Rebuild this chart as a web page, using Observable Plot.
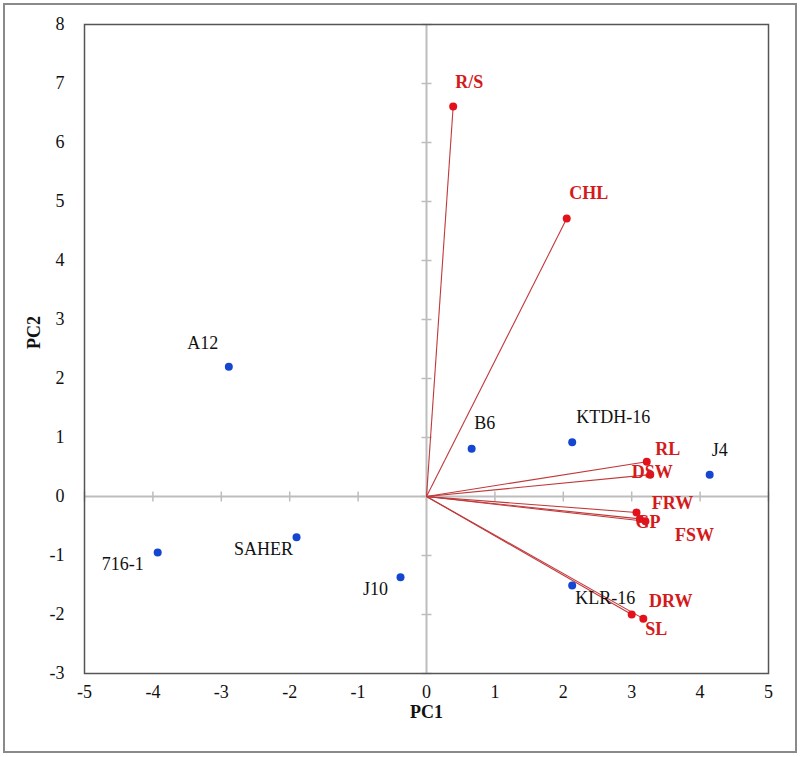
<!DOCTYPE html>
<html>
<head>
<meta charset="utf-8">
<script src="https://cdn.jsdelivr.net/npm/d3@7"></script>
<script src="https://cdn.jsdelivr.net/npm/@observablehq/plot@0.6"></script>
<style>
  html, body { margin: 0; padding: 0; background: #fff; }
  #wrap { position: relative; width: 800px; height: 757px; }
  #border { position: absolute; left: 3px; top: 3px; width: 790px; height: 746px; border: 2px solid #8a8a8a; pointer-events: none; }
  #chart { position: absolute; left: 0; top: 0; }
  #chart svg, #chart svg text { font-family: "Liberation Serif", "Times New Roman", serif !important; }
</style>
</head>
<body>
<div id="wrap"><div id="chart"></div><div id="border"></div></div>
<script>
// Genotype scores (blue points)
const genotypeNames = ["A12", "B6", "KTDH-16", "J4", "716-1", "SAHER", "J10", "KLR-16"];
const genotypePC1 = [-2.89, 0.66, 2.13, 4.14, -3.93, -1.90, -0.38, 2.13];
const genotypePC2 = [2.20, 0.81, 0.92, 0.37, -0.95, -0.69, -1.37, -1.51];

// Trait loadings (red vectors)
const traitNames = ["R/S", "CHL", "RL", "DSW", "FRW", "GP", "FSW", "DRW", "SL"];
const traitPC1 = [0.39, 2.05, 3.22, 3.27, 3.07, 3.12, 3.20, 3.00, 3.17];
const traitPC2 = [6.61, 4.71, 0.59, 0.37, -0.27, -0.38, -0.42, -2.00, -2.07];

// Axis ticks
const xTicks = [-5, -4, -3, -2, -1, 0, 1, 2, 3, 4, 5];
const yTicks = [-3, -2, -1, 0, 1, 2, 3, 4, 5, 6, 7, 8];

const genotypes = genotypeNames.map((name, i) => ({name, x: genotypePC1[i], y: genotypePC2[i]}));
const traits = traitNames.map((name, i) => ({name, x: traitPC1[i], y: traitPC2[i]}));

// label placement (pixel offsets from point)
const labelOffset = {
  "R/S": [16, -24], "CHL": [22, -25], "RL": [21, -12], "DSW": [2, -2], "FRW": [36, -9],
  "GP": [8, 3], "FSW": [49, 14], "DRW": [39, -13], "SL": [13, 11],
  "A12": [-26, -23], "B6": [13, -25], "KTDH-16": [41, -25], "J4": [10, -24],
  "716-1": [-35, 12], "SAHER": [-33, 12], "J10": [-25, 12], "KLR-16": [33, 13]
};

const FONT = "Liberation Serif";
const RED = "#d41a1a";

const hTick = {draw(ctx) { ctx.moveTo(-5, 0); ctx.lineTo(5, 0); }};
const vTick = {draw(ctx) { ctx.moveTo(0, -5); ctx.lineTo(0, 5); }};

const labelMarks = (rows, fill, weight) => rows.map(d => Plot.text([d], {
  x: "x", y: "y", text: "name",
  dx: labelOffset[d.name][0], dy: labelOffset[d.name][1],
  fill, fontWeight: weight, fontSize: 18, fontFamily: FONT,
  textAnchor: "middle", lineAnchor: "middle"
}));

const fmt = d => String(d);

const chart = Plot.plot({
  width: 800,
  height: 757,
  marginLeft: 84,
  marginRight: 32,
  marginTop: 24,
  marginBottom: 84,
  style: {fontFamily: FONT, fontSize: "18px", color: "#111", background: "transparent"},
  x: {domain: [-5, 5]},
  y: {domain: [-3, 8]},
  marks: [
    Plot.ruleY([0], {stroke: "#bdbdbd", strokeWidth: 2}),
    Plot.ruleX([0], {stroke: "#bdbdbd", strokeWidth: 2}),
    Plot.dot(yTicks, {x: 0, y: d => d, symbol: hTick, stroke: "#bdbdbd", strokeWidth: 1.5, fill: "none"}),
    Plot.dot(xTicks, {x: d => d, y: 0, symbol: vTick, stroke: "#bdbdbd", strokeWidth: 1.5, fill: "none"}),
    Plot.frame({stroke: "#555", strokeWidth: 1.5}),
    Plot.axisX(xTicks, {tickSize: 0, tickPadding: 12, fontSize: 18, fill: "#111", label: null, tickFormat: fmt, fontFamily: FONT}),
    Plot.axisY(yTicks, {tickSize: 0, tickPadding: 20, fontSize: 18, fill: "#111", label: null, tickFormat: fmt, fontFamily: FONT}),
    Plot.text(["PC1"], {frameAnchor: "bottom", dy: 44, fontWeight: "bold", fontSize: 18, fill: "#111", fontFamily: FONT}),
    Plot.text(["PC2"], {frameAnchor: "left", dx: -50, rotate: -90, fontWeight: "bold", fontSize: 18, fill: "#111", fontFamily: FONT}),
    Plot.link(traits, {x1: 0, y1: 0, x2: "x", y2: "y", stroke: "#c0393b", strokeWidth: 1.1}),
    Plot.dot(traits, {x: "x", y: "y", r: 4, fill: "#e3121a"}),
    Plot.dot(genotypes, {x: "x", y: "y", r: 4, fill: "#1546d1"}),
    ...labelMarks(traits, RED, "bold"),
    ...labelMarks(genotypes, "#111", "normal")
  ]
});
document.getElementById("chart").appendChild(chart);
</script>
</body>
</html>
